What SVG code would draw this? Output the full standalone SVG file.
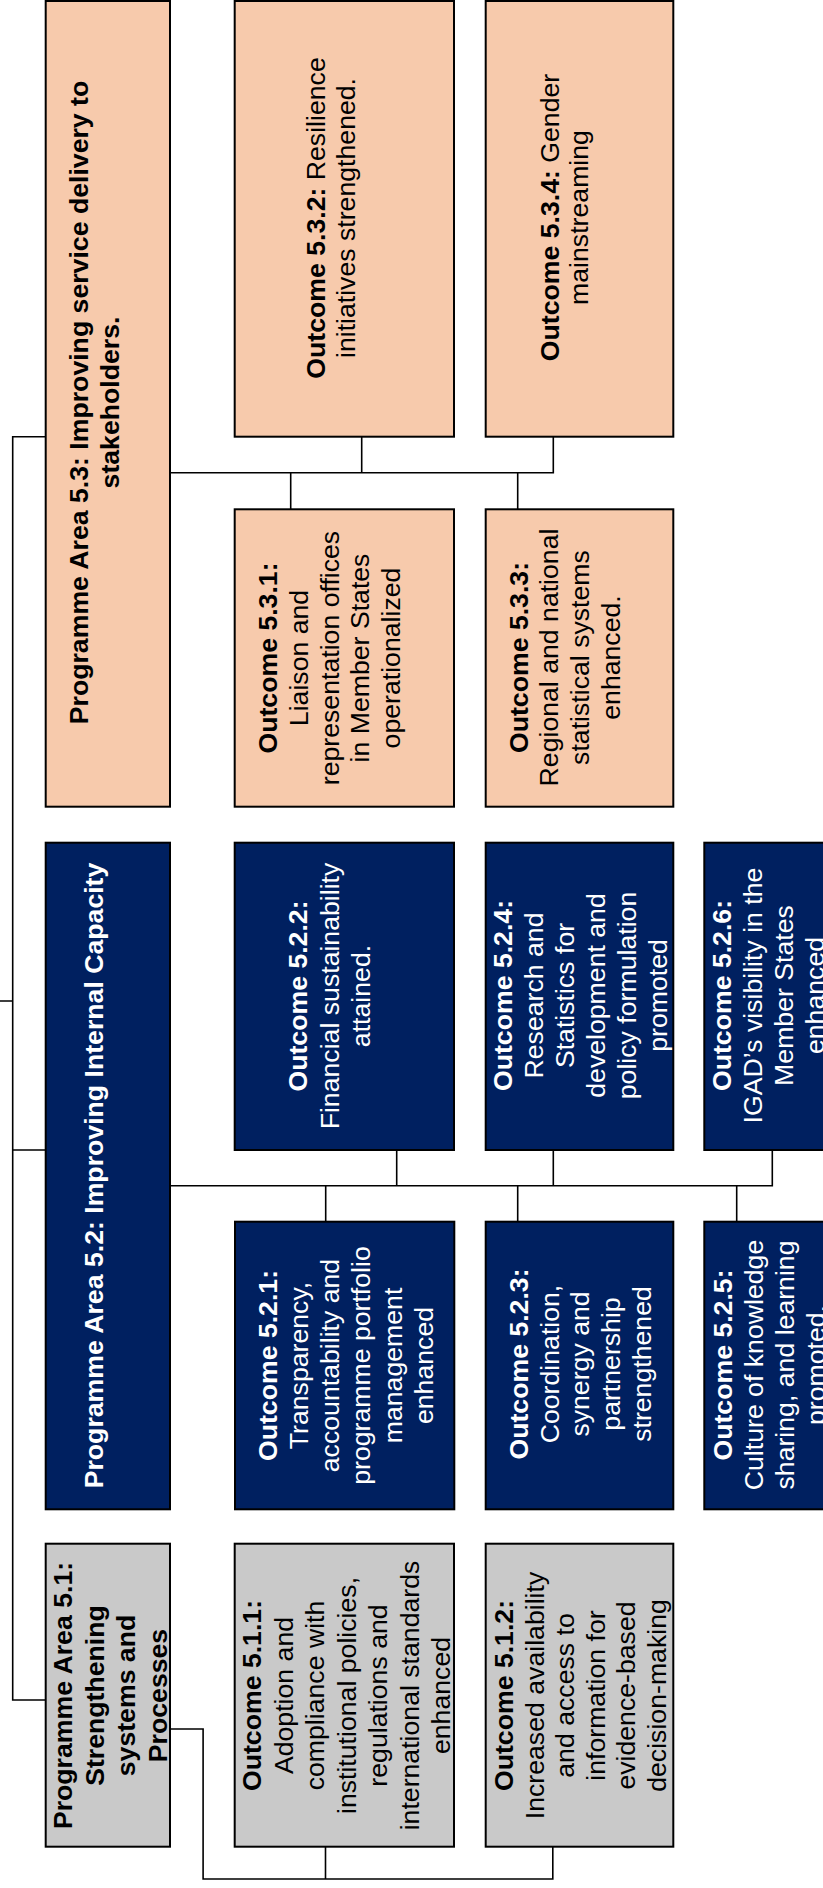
<svg xmlns="http://www.w3.org/2000/svg" width="823" height="1888" viewBox="0 0 823 1888">
<style>
.box{stroke:#000;stroke-width:2}
.peach{fill:#F7CAAC}
.navy{fill:#002060}
.gray{fill:#C9C9C9}
.t{font-family:"Liberation Sans",Arial,sans-serif;font-size:26.67px;text-anchor:middle;fill:#000}
.w{fill:#fff}
.b{font-weight:bold}
.conn{fill:none;stroke:#000;stroke-width:1.6}
</style>
<rect width="823" height="1888" fill="#fff"/>
<g id="connectors">
<path class="conn" d="M0 1001H12.7M45.7 436.7H12.7V1700H45.7M12.7 1150H45.7"/>
<path class="conn" d="M170 472.7H553.3V436.7M361.7 436.7V472.7M290.7 472.7V509.3M517.7 472.7V509.3"/>
<path class="conn" d="M170 1185.7H772.3V1150M396.7 1150V1185.7M553.3 1150V1185.7M325.7 1185.7V1221.7M517.7 1185.7V1221.7M736.7 1185.7V1221.7"/>
<path class="conn" d="M170 1729H203.1V1879H552.8V1846.7M325.5 1846.7V1879"/>
</g>
<g id="pa53">
<rect class="box peach" x="45.7" y="1" width="124.3" height="805.7"/>
<text class="t b" transform="translate(0,402.5) rotate(-90)"><tspan x="0" y="88">Programme Area 5.3: Improving service delivery to</tspan><tspan x="0" y="119.3">stakeholders.</tspan></text>
</g>
<g id="o532">
<rect class="box peach" x="234.7" y="1" width="219.3" height="435.7"/>
<text class="t" transform="translate(0,218) rotate(-90)"><tspan x="0" y="325" class="b">Outcome 5.3.2:</tspan><tspan> Resilience</tspan><tspan x="0" y="355">initiatives strengthened.</tspan></text>
</g>
<g id="o534">
<rect class="box peach" x="485.7" y="1" width="187.6" height="435.7"/>
<text class="t" transform="translate(0,217.5) rotate(-90)"><tspan x="0" y="558.7" class="b">Outcome 5.3.4:</tspan><tspan> Gender</tspan><tspan x="0" y="588.3">mainstreaming</tspan></text>
</g>
<g id="o531">
<rect class="box peach" x="234.7" y="509.3" width="219.3" height="297.4"/>
<text class="t" transform="translate(0,658) rotate(-90)"><tspan x="0" y="277.3" class="b">Outcome 5.3.1:</tspan><tspan x="0" y="308">Liaison and</tspan><tspan x="0" y="338.7">representation offices</tspan><tspan x="0" y="369.4">in Member States</tspan><tspan x="0" y="400.1">operationalized</tspan></text>
</g>
<g id="o533">
<rect class="box peach" x="485.7" y="509.3" width="187.6" height="297.4"/>
<text class="t" transform="translate(0,657.5) rotate(-90)"><tspan x="0" y="527.7" class="b">Outcome 5.3.3:</tspan><tspan x="0" y="558.4">Regional and national</tspan><tspan x="0" y="589.1">statistical systems</tspan><tspan x="0" y="619.8">enhanced.</tspan></text>
</g>
<g id="pa52">
<rect class="box navy" x="45.7" y="842.7" width="124.3" height="666.6"/>
<text class="t w b" transform="translate(0,1175.5) rotate(-90)"><tspan x="0" y="103">Programme Area 5.2: Improving Internal Capacity</tspan></text>
</g>
<g id="o522">
<rect class="box navy" x="234.7" y="842.7" width="219.3" height="307.3"/>
<text class="t w" transform="translate(0,996) rotate(-90)"><tspan x="0" y="307.3" class="b">Outcome 5.2.2:</tspan><tspan x="0" y="338.6">Financial sustainability</tspan><tspan x="0" y="369.9">attained.</tspan></text>
</g>
<g id="o524">
<rect class="box navy" x="485.7" y="842.7" width="187.6" height="307.3"/>
<text class="t w" transform="translate(0,995.5) rotate(-90)"><tspan x="0" y="512" class="b">Outcome 5.2.4:</tspan><tspan x="0" y="543">Research and</tspan><tspan x="0" y="574">Statistics for</tspan><tspan x="0" y="605">development and</tspan><tspan x="0" y="636">policy formulation</tspan><tspan x="0" y="667">promoted</tspan></text>
</g>
<g id="o526">
<rect class="box navy" x="704.3" y="842.7" width="190" height="307.3"/>
<text class="t w" transform="translate(0,995.5) rotate(-90)"><tspan x="0" y="731" class="b">Outcome 5.2.6:</tspan><tspan x="0" y="762">IGAD’s visibility in the</tspan><tspan x="0" y="793">Member States</tspan><tspan x="0" y="824">enhanced</tspan></text>
</g>
<g id="o521">
<rect class="box navy" x="235" y="1221.7" width="219.3" height="287.6"/>
<text class="t w" transform="translate(0,1365.5) rotate(-90)"><tspan x="0" y="276.7" class="b">Outcome 5.2.1:</tspan><tspan x="0" y="307.9">Transparency,</tspan><tspan x="0" y="339.1">accountability and</tspan><tspan x="0" y="370.3">programme portfolio</tspan><tspan x="0" y="401.5">management</tspan><tspan x="0" y="432.7">enhanced</tspan></text>
</g>
<g id="o523">
<rect class="box navy" x="485.7" y="1221.7" width="187.6" height="287.6"/>
<text class="t w" transform="translate(0,1364) rotate(-90)"><tspan x="0" y="527.6" class="b">Outcome 5.2.3:</tspan><tspan x="0" y="558.5">Coordination,</tspan><tspan x="0" y="589.4">synergy and</tspan><tspan x="0" y="620.3">partnership</tspan><tspan x="0" y="651.2">strengthened</tspan></text>
</g>
<g id="o525">
<rect class="box navy" x="704.3" y="1221.7" width="190" height="287.6"/>
<text class="t w" transform="translate(0,1365) rotate(-90)"><tspan x="0" y="732" class="b">Outcome 5.2.5:</tspan><tspan x="0" y="763">Culture of knowledge</tspan><tspan x="0" y="794">sharing, and learning</tspan><tspan x="0" y="825">promoted.</tspan></text>
</g>
<g id="pa51">
<rect class="box gray" x="45.7" y="1543.7" width="124.3" height="303"/>
<text class="t b" transform="translate(0,1695.5) rotate(-90)"><tspan x="0" y="72">Programme Area 5.1:</tspan><tspan x="0" y="103.5">Strengthening</tspan><tspan x="0" y="135">systems and</tspan><tspan x="0" y="166.5">Processes</tspan></text>
</g>
<g id="o511">
<rect class="box gray" x="234.7" y="1543.7" width="219.3" height="303"/>
<text class="t" transform="translate(0,1695.5) rotate(-90)"><tspan x="0" y="261.4" class="b">Outcome 5.1.1:</tspan><tspan x="0" y="292.9">Adoption and</tspan><tspan x="0" y="324.4">compliance with</tspan><tspan x="0" y="355.9">institutional policies,</tspan><tspan x="0" y="387.4">regulations and</tspan><tspan x="0" y="418.9">international standards</tspan><tspan x="0" y="450.4">enhanced</tspan></text>
</g>
<g id="o512">
<rect class="box gray" x="485.7" y="1543.7" width="187.6" height="303"/>
<text class="t" transform="translate(0,1695.5) rotate(-90)"><tspan x="0" y="513.4" class="b">Outcome 5.1.2:</tspan><tspan x="0" y="543.9">Increased availability</tspan><tspan x="0" y="574.4">and access to</tspan><tspan x="0" y="604.9">information for</tspan><tspan x="0" y="635.4">evidence-based</tspan><tspan x="0" y="665.9">decision-making</tspan></text>
</g>
</svg>
